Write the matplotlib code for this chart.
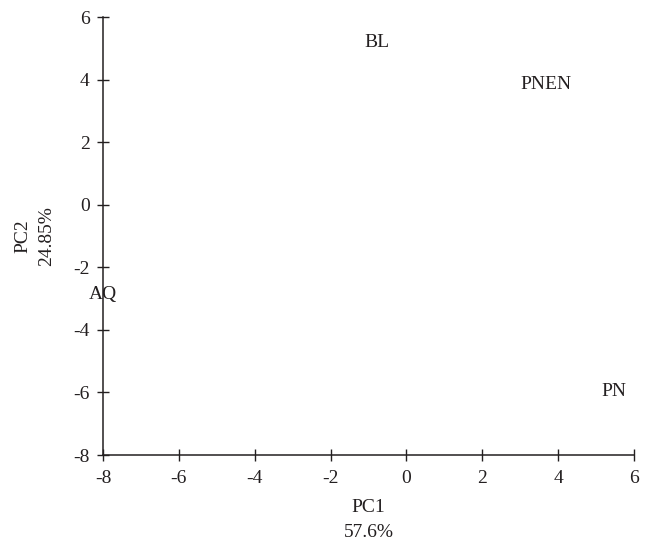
import matplotlib
matplotlib.use("Agg")
import matplotlib.pyplot as plt

# PCA scores
names = ["BL", "PNEN", "AQ", "PN"]
pc1 = [-0.77, 3.69, -8.0, 5.46]
pc2 = [5.17, 3.83, -2.88, -5.98]

xticks = [-8, -6, -4, -2, 0, 2, 4, 6]
yticks = [-8, -6, -4, -2, 0, 2, 4, 6]

plt.rcParams['font.family'] = 'serif'
plt.rcParams['font.serif'] = ['Liberation Serif', 'DejaVu Serif']
plt.rcParams['font.size'] = 14

ink = '#231f20'
fig = plt.figure(figsize=(6.49, 5.42), dpi=100)
ax = fig.add_axes([0.1587, 0.1605, 0.8182, 0.8081])

for n, x, y in zip(names, pc1, pc2):
    ax.text(x, y, n, ha='center', va='center', color=ink)

ax.set_xlim(-8, 6)
ax.set_ylim(-8, 6)
ax.set_xticks(xticks)
ax.set_yticks(yticks)
ax.set_xticklabels([str(t) for t in xticks])
ax.set_yticklabels([str(t) for t in yticks])
ax.tick_params(direction='inout', length=9, width=1, colors=ink)
ax.tick_params(axis='x', pad=6)
ax.tick_params(axis='y', pad=5)
for s in ['top', 'right']:
    ax.spines[s].set_visible(False)
for s in ['left', 'bottom']:
    ax.spines[s].set_linewidth(1.1)
    ax.spines[s].set_color(ink)

ax.set_xlabel('PC1\n57.6%', color=ink, labelpad=9, linespacing=1.6)
ax.set_ylabel('PC2\n24.85%', color=ink, labelpad=13, linespacing=1.55)

fig.savefig('out.png', dpi=100)
